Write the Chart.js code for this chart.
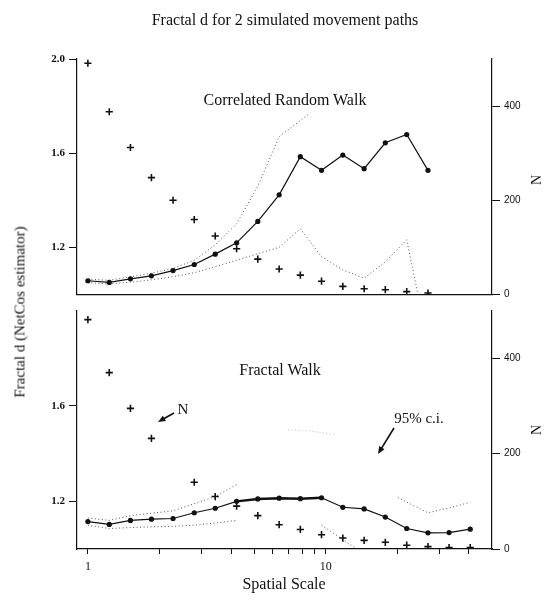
<!DOCTYPE html>
<html>
<head>
<meta charset="utf-8">
<script src="https://cdn.jsdelivr.net/npm/chart.js@4.4.1/dist/chart.umd.min.js"></script>
<style>
  body { margin: 0; background: #fff; }
  #wrap { position: relative; width: 546px; height: 604px; font-family: 'Liberation Serif', 'DejaVu Serif', serif; color: #111; }
  canvas { position: absolute; left: 0; }
  .txt { position: absolute; white-space: nowrap; line-height: 1; }
  .rot { transform: translate(-50%, -50%) rotate(-90deg); }
  .ctr { transform: translate(-50%, -50%); }
</style>
</head>
<body>
<div id="wrap">
  <canvas id="topChart" width="546" height="305" style="top:0"></canvas>
  <canvas id="botChart" width="546" height="304" style="top:300px"></canvas>

  <div class="txt ctr" style="left:285px; top:20px; font-size:16px;">Fractal d for 2 simulated movement paths</div>
  <div class="txt rot" style="left:20px; top:312px; font-size:15px;">Fractal d (NetCos estimator)</div>
  <div class="txt rot" style="left:537px; top:180px; font-size:14px;">N</div>
  <div class="txt rot" style="left:537px; top:430px; font-size:14px;">N</div>
  <div class="txt ctr" style="left:284px; top:584px; font-size:16px;">Spatial Scale</div>

  <div class="txt ctr" style="left:285px; top:100px; font-size:16px;">Correlated Random Walk</div>
  <div class="txt ctr" style="left:280px; top:370px; font-size:16px;">Fractal Walk</div>
  <div class="txt ctr" style="left:183px; top:409px; font-size:15px;">N</div>
  <div class="txt ctr" style="left:419px; top:418px; font-size:15px;">95% c.i.</div>
</div>

<script>
// spatial scales (log x)
const scaleX = [1, 1.23, 1.51, 1.85, 2.28, 2.8, 3.43, 4.22, 5.18, 6.37, 7.82, 9.6, 11.8, 14.5, 17.8, 21.9, 26.9, 33, 40.5];
const xTicks = [1, 2, 3, 4, 5, 6, 7, 8, 9, 10, 20, 30, 40];
const xLabels = { 1: '1', 10: '10' };
const dTicksTop = [1.2, 1.6, 2.0];
const dTicksBot = [1.2, 1.6];
const nTicks = [0, 200, 400];

// correlated random walk
const crwFractal = [1.058, 1.051, 1.066, 1.079, 1.101, 1.127, 1.171, 1.219, 1.31, 1.423, 1.585, 1.527, 1.592, 1.534, 1.644, 1.679, 1.527];
const crwN = [491, 388, 312, 248, 200, 159, 124, 97, 75, 54, 41, 28, 17, 12, 10, 6, 3];
const crwUpperX = [1, 1.23, 1.51, 1.85, 2.28, 2.8, 3.43, 4.22, 5.18, 6.37, 8.6];
const crwUpperY = [1.065, 1.06, 1.075, 1.09, 1.11, 1.145, 1.21, 1.3, 1.46, 1.67, 1.77];
const crwLowerX = [1, 1.23, 1.51, 1.85, 2.28, 2.8, 3.43, 4.22, 5.18, 6.37, 7.82, 9.6, 11.8, 14.5, 17.8, 21.9, 24.4];
const crwLowerY = [1.05, 1.044, 1.052, 1.062, 1.075, 1.092, 1.118, 1.145, 1.173, 1.2, 1.279, 1.16, 1.104, 1.069, 1.138, 1.232, 1.0];

// fractal walk
const fwFractal = [1.115, 1.103, 1.12, 1.125, 1.128, 1.152, 1.171, 1.2, 1.21, 1.213, 1.211, 1.215, 1.175, 1.168, 1.134, 1.086, 1.068, 1.069, 1.083];
const fwN = [481, 370, 295, 232, null, 140, 110, 90, 70, 51, 41, 30, 23, 18, 14, 8, 5, 3, 3];
const fwUpperX = [1, 1.23, 1.51, 1.85, 2.28, 2.8, 3.43, 4.22, 6, 20.1, 26.9, 33, 40.5];
const fwUpperY = [1.13, 1.12, 1.14, 1.15, 1.16, 1.19, 1.22, 1.27, null, 1.216, 1.152, 1.172, 1.196];
const fwFaintX = [6.94, 8.62, 10.9];
const fwFaintY = [1.5, 1.495, 1.48];
const fwLowerX = [1, 1.23, 1.51, 1.85, 2.28, 2.8, 3.43, 4.22, 6, 9.6, 13.5];
const fwLowerY = [1.1, 1.086, 1.09, 1.093, 1.095, 1.1, 1.109, 1.12, null, 1.1, 1.0];

const ink = '#111';
const serif = "'Liberation Serif', 'DejaVu Serif', serif";
const sans = "'Liberation Sans', Arial, sans-serif";

const pts = (xs, ys) => ys.map((y, i) => ({ x: xs[i], y: y }));

function fractalSet(data, thick) {
    return {
        data: data, yAxisID: 'y', borderColor: ink, borderWidth: 1.2,
        pointRadius: 2.6, pointBackgroundColor: ink, pointBorderWidth: 0,
        segment: thick ? { borderWidth: c => (c.p0.parsed.x > 4 && c.p1.parsed.x < 10) ? 2.4 : 1.2 } : {},
        order: 1
    };
}
function nSet(data) {
    return {
        data: data, yAxisID: 'n', showLine: false, pointStyle: 'cross',
        pointRadius: 3.6, borderColor: ink, borderWidth: 1.6, order: 0
    };
}
function ciSet(data, col) {
    return {
        data: data, yAxisID: 'y', borderColor: col || '#555', borderWidth: 1,
        borderDash: [1, 2.5], pointRadius: 0, spanGaps: false, order: 2
    };
}

function makeScales(dTicks, showX, xHeight) {
    return {
        x: {
            type: 'logarithmic', min: 0.9, max: 50,
            afterBuildTicks: s => { s.ticks = xTicks.map(v => ({ value: v })); },
            afterFit: s => { s.height = xHeight; },
            ticks: {
                display: showX, autoSkip: false, maxRotation: 0, padding: 6,
                color: ink, font: { family: serif, size: 12 },
                callback: v => xLabels[v] || ''
            },
            grid: { display: showX, drawOnChartArea: false, color: ink, tickLength: 5 },
            border: { display: true, color: ink, width: 1.2 }
        },
        y: {
            type: 'linear', position: 'left', min: 1, max: 2,
            afterBuildTicks: s => { s.ticks = dTicks.map(v => ({ value: v })); },
            afterFit: s => { s.width = 77; },
            ticks: { color: ink, padding: 4, font: { family: serif, size: 11, weight: 'bold' }, callback: v => v.toFixed(1) },
            grid: { drawOnChartArea: false, color: ink, tickLength: 8 },
            border: { display: true, color: ink, width: 1.2 }
        },
        n: {
            type: 'linear', position: 'right', min: 0, max: 500,
            afterBuildTicks: s => { s.ticks = nTicks.map(v => ({ value: v })); },
            afterFit: s => { s.width = 54; },
            ticks: { color: ink, padding: 4, font: { family: sans, size: 10 } },
            grid: { drawOnChartArea: false, color: ink, tickLength: 8 },
            border: { display: true, color: ink, width: 1.2 }
        }
    };
}

const common = {
    responsive: false, animation: false, events: [],
    plugins: { legend: { display: false }, tooltip: { enabled: false } }
};

new Chart(document.getElementById('topChart'), {
    type: 'line',
    data: {
        datasets: [
            fractalSet(pts(scaleX, crwFractal), false),
            nSet(pts(scaleX, crwN)),
            ciSet(pts(crwUpperX, crwUpperY)),
            ciSet(pts(crwLowerX, crwLowerY))
        ]
    },
    options: Object.assign({}, common, {
        layout: { padding: { top: 59, left: 0, right: 0, bottom: 0 } },
        scales: makeScales(dTicksTop, false, 5)
    })
});

// arrows for the "N" and "95% c.i." notes (canvas pixel coords)
const arrowNotes = {
    id: 'arrowNotes',
    afterDraw(chart) {
        const c = chart.ctx;
        const arrow = (x0, y0, x1, y1) => {
            const a = Math.atan2(y1 - y0, x1 - x0);
            c.save();
            c.strokeStyle = ink; c.fillStyle = ink; c.lineWidth = 1.6;
            c.beginPath(); c.moveTo(x0, y0); c.lineTo(x1 - 4 * Math.cos(a), y1 - 4 * Math.sin(a)); c.stroke();
            c.beginPath();
            c.moveTo(x1, y1);
            c.lineTo(x1 - 8 * Math.cos(a - 0.4), y1 - 8 * Math.sin(a - 0.4));
            c.lineTo(x1 - 8 * Math.cos(a + 0.4), y1 - 8 * Math.sin(a + 0.4));
            c.closePath(); c.fill();
            c.restore();
        };
        arrow(174, 113, 158, 122);
        arrow(394, 128, 378, 154);
    }
};

new Chart(document.getElementById('botChart'), {
    type: 'line',
    data: {
        datasets: [
            fractalSet(pts(scaleX, fwFractal), true),
            nSet(pts(scaleX, fwN)),
            ciSet(pts(fwUpperX, fwUpperY)),
            ciSet(pts(fwFaintX, fwFaintY), '#bbb'),
            ciSet(pts(fwLowerX, fwLowerY))
        ]
    },
    options: Object.assign({}, common, {
        layout: { padding: { top: 8, left: 0, right: 0, bottom: 0 } },
        scales: makeScales(dTicksBot, true, 55)
    }),
    plugins: [arrowNotes]
});
</script>
</body>
</html>
